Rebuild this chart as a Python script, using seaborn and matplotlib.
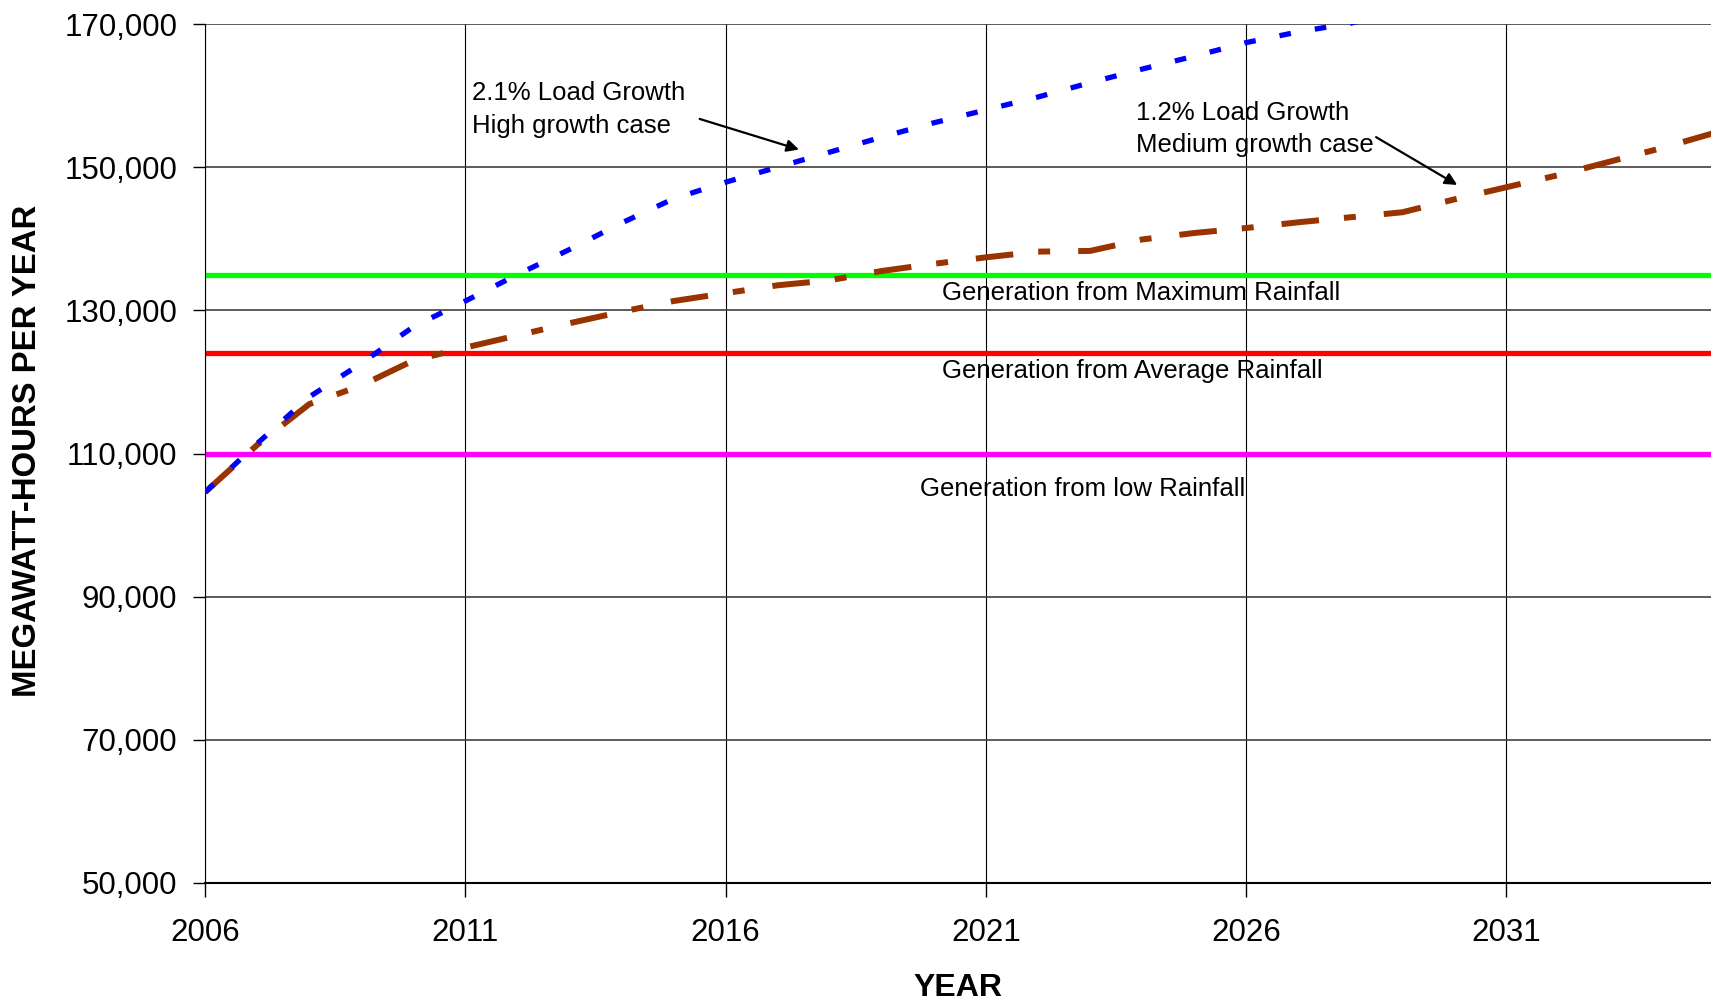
import numpy as np
import pandas as pd
import matplotlib
matplotlib.use("Agg")
import matplotlib.pyplot as plt
import seaborn as sns

# Load forecast (MWh per year)
years_high = [2006, 2007, 2008, 2009, 2010, 2011, 2012, 2013, 2014, 2015, 2016, 2017,
              2018, 2019, 2020, 2021, 2022, 2023, 2024, 2025, 2026, 2027, 2028, 2029]
high_growth = [104600, 111400, 117900, 122600, 127700, 131300, 135000, 138500, 142200,
               145600, 147900, 150000, 152100, 154200, 156200, 158000, 159800, 161800,
               163700, 165500, 167400, 168900, 170100, 172000]

years_med = list(range(2006, 2036))
medium_growth = [104600, 111200, 116900, 119500, 123000, 124800, 126500, 128200, 129800,
                 131300, 132400, 133500, 134200, 135500, 136500, 137400, 138200, 138300,
                 139900, 140800, 141500, 142300, 143000, 143700, 145500, 147200, 148900,
                 150800, 152700, 154800]

# Hydro generation levels
gen_max = 135000
gen_avg = 124000
gen_low = 110000

x_ticks = [2006, 2011, 2016, 2021, 2026, 2031]
y_ticks = [50000, 70000, 90000, 110000, 130000, 150000, 170000]
y_tick_labels = ["50,000", "70,000", "90,000", "110,000", "130,000", "150,000", "170,000"]

sns.set_style("white")
plt.rcParams["font.family"] = ["Liberation Sans", "DejaVu Sans"]
plt.rcParams["text.color"] = "black"
plt.rcParams["axes.labelcolor"] = "black"
plt.rcParams["xtick.color"] = "black"
plt.rcParams["ytick.color"] = "black"

fig = plt.figure(figsize=(17.11, 10), dpi=100)
ax = fig.add_axes([0.1199, 0.117, 0.8801, 0.859])

# rainfall generation levels
ax.axhline(gen_max, color="#00FF00", lw=3.8, zorder=2)
ax.axhline(gen_avg, color="#FF0000", lw=3.8, zorder=2)
ax.axhline(gen_low, color="#FF00FF", lw=3.8, zorder=2)

high = pd.DataFrame({"Year": years_high, "MWh": high_growth})
med = pd.DataFrame({"Year": years_med, "MWh": medium_growth})
sns.lineplot(data=med, x="Year", y="MWh", color="#993300", lw=4.3,
             linestyle=(0, (6.3, 4.2, 2.0, 4.7)), ax=ax, zorder=3)
sns.lineplot(data=high, x="Year", y="MWh", color="#0000FF", lw=3.8,
             linestyle=(0, (2.2, 4.6)), ax=ax, zorder=4)

ax.set_xlim(2006, 2034.93)
ax.set_ylim(50000, 170000)
ax.set_xticks(x_ticks)
ax.set_xticklabels([str(y) for y in x_ticks])
ax.set_yticks(y_ticks)
ax.set_yticklabels(y_tick_labels)
ax.tick_params(axis="y", labelsize=22.5, length=9, width=1, pad=11, direction="out", left=True)
ax.tick_params(axis="x", labelsize=22.5, length=10, width=1, pad=15, direction="out", bottom=True)

ax.grid(axis="y", color="#404040", lw=1.2, zorder=1)
ax.grid(axis="x", color="black", lw=0.8, zorder=1)
for s in ["top", "right"]:
    ax.spines[s].set_visible(False)
ax.spines["left"].set_color("black")
ax.spines["bottom"].set_color("black")
ax.spines["bottom"].set_linewidth(1.5)

ax.set_xlabel("YEAR", fontsize=23, fontweight="bold")
ax.set_ylabel("MEGAWATT-HOURS PER YEAR", fontsize=23.7, fontweight="bold")
ax.xaxis.set_label_coords(0.5, -0.1045)
ax.yaxis.set_label_coords(-0.1075, 0.503)

# annotations
ax.text(2011.13, 158050, "2.1% Load Growth\nHigh growth case", fontsize=18.5,
        ha="left", va="center", linespacing=1.45)
ax.annotate("", xy=(2017.46, 152350), xytext=(2015.45, 156850),
            arrowprops=dict(arrowstyle="-|>", color="black", lw=1.6, mutation_scale=18))
ax.text(2023.88, 155320, "1.2% Load Growth\nMedium growth case", fontsize=18.5,
        ha="left", va="center", linespacing=1.45)
ax.annotate("", xy=(2030.1, 147320), xytext=(2028.45, 154390),
            arrowprops=dict(arrowstyle="-|>", color="black", lw=1.6, mutation_scale=18))

ax.text(2020.15, 132430, "Generation from Maximum Rainfall", fontsize=18.5, ha="left", va="center")
ax.text(2020.15, 121490, "Generation from Average Rainfall", fontsize=18.5, ha="left", va="center")
ax.text(2019.73, 105040, "Generation from low Rainfall", fontsize=18.5, ha="left", va="center")

fig.savefig("out.png", dpi=100)
